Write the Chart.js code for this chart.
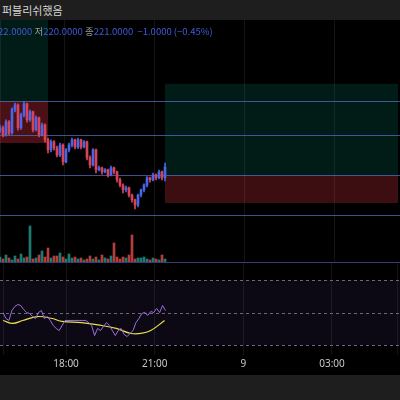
<!DOCTYPE html>
<html>
<head>
<meta charset="utf-8">
<script src="https://cdn.jsdelivr.net/npm/chart.js@4"></script>
<style>
  body { margin:0; width:400px; height:400px; background:#000; overflow:hidden; position:relative; font-family:"Noto Sans CJK KR","Noto Sans",sans-serif; }
  .bar { position:absolute; left:0; width:400px; background:#1e1e1e; }
  canvas { position:absolute; left:0; }
  #title { top:0; height:20px; color:#d6d6d6; font-size:11px; line-height:20px; padding-left:2px; box-sizing:border-box; }
  #legend { position:absolute; top:24px; left:-16px; font-size:9.5px; color:#3f5bd6; white-space:nowrap; z-index:2; }
  #legend b { font-weight:normal; color:#9a9a9a; }
</style>
</head>
<body>
<div class="bar" id="title">퍼블리쉬했음</div>
<div id="legend"><b>고</b>222.0000 <b>저</b>220.0000 <b>종</b>221.0000 &nbsp;−1.0000 (−0.45%)</div>
<canvas id="main" style="top:20px" width="400" height="205"></canvas>
<canvas id="vol" style="top:225px" width="400" height="38"></canvas>
<canvas id="rsi" style="top:263px" width="400" height="112"></canvas>
<div class="bar" style="top:375px;height:25px"></div>
<script>
// minutes from 18:00, candles every 6 minutes
const startMin = -128;
const step = 6;
const closes = [222.18,222.00,222.33,222.05,222.63,222.75,222.18,222.50,222.78,222.38,222.58,222.13,222.43,222.00,222.25,221.88,221.63,221.83,221.68,221.50,221.75,221.33,221.63,221.75,221.88,221.70,221.88,221.70,221.83,221.43,221.25,221.63,221.13,221.18,221.08,221.13,221.00,221.18,221.08,220.88,220.75,220.63,220.68,220.50,220.38,220.25,220.50,220.63,220.75,220.93,220.88,221.00,220.93,221.08,220.93,221.20];
const firstOpen = 222.10;
const highs = [222.25,222.22,222.38,222.36,222.68,222.80,222.78,222.55,222.82,222.80,222.62,222.60,222.48,222.45,222.30,222.28,221.92,221.88,221.86,221.72,221.80,221.78,221.66,221.80,221.92,221.90,221.92,221.90,221.86,221.85,221.48,221.66,221.65,221.22,221.20,221.16,221.15,221.22,221.20,221.10,220.92,220.78,220.72,220.70,220.52,220.40,220.52,220.65,220.78,220.96,220.95,221.05,221.03,221.12,221.10,221.30];
const lows = [222.05,221.95,221.97,222.00,222.02,222.58,222.12,222.14,222.45,222.32,222.34,222.08,222.10,221.95,221.98,221.82,221.55,221.58,221.62,221.45,221.46,221.25,221.30,221.58,221.70,221.65,221.66,221.65,221.68,221.38,221.18,221.22,221.05,221.10,221.02,221.05,220.95,220.98,221.03,220.82,220.70,220.55,220.58,220.45,220.32,220.15,220.20,220.45,220.58,220.70,220.82,220.85,220.88,220.90,220.88,220.85];
const volumes = [6,4,8,5,3,7,4,9,5,6,37,4,5,8,12,6,15,5,7,7,10,6,4,9,5,6,4,5,3,4,7,4,6,3,8,5,4,7,20,6,4,6,5,8,28,4,5,5,6,4,3,5,4,3,8,4];
const rsi = [50,46.3,45.1,51.2,53.7,54.9,54.3,51.8,50,49.4,47.5,46.3,50,51.2,46.3,47.5,45.1,42,40.2,38.9,42,45.1,45.1,45.1,45.1,45.1,45.1,45.1,45.1,43.8,42,35.8,40.2,38.9,41.4,43.8,42,38.9,35.8,38.9,40.2,36.5,35.2,37.1,38.9,43.8,46.3,49.4,50,48.2,50.6,50,52.5,50,54.3,51.2];
const rsiMaT = [-128,-108,-88,-58,-28,-8,32,72,102,132,152,172,200];
const rsiMa = [45.1,43.3,45.1,47.5,46.3,44.5,43.8,42,40.2,37.1,37.1,38.9,45.1];
const levels = [220, 221, 222, 222.85];
// boxes: [t1, t2, p1, p2, color]
const boxes = [
  [-140, -32, 222.85, 224.9, 'rgba(8,153,129,0.18)'],
  [-140, -32, 221.8, 222.85, 'rgba(242,54,69,0.30)'],
  [202, 668, 221.0, 223.28, 'rgba(8,153,129,0.18)'],
  [202, 668, 220.3, 221.0, 'rgba(242,54,69,0.25)']
];
const tickLabels = {0:'18:00', 180:'21:00', 360:'9', 540:'03:00'};
const xMin = -128, xMax = 672;

const times = closes.map((c, i) => startMin + i * step);
const opens = closes.map((c, i) => i === 0 ? firstOpen : closes[i - 1]);
const up = closes.map((c, i) => c >= opens[i]);
const UP = '#4a66e8', DN = '#d94457';

const xScale = (display) => ({
  type:'linear', min:xMin, max:xMax, display:true, offset:false,
  grid:{ color:'#141414', drawTicks:false, offset:false },
  border:{ display:false },
  afterFit: s => { s.height = display ? 20 : 0; },
  ticks:{ stepSize:180, display:display, color:'#c8c8c8', font:{ size:10, family:'Noto Sans' }, padding:3,
    callback: v => tickLabels[v] || '' }
});

const boxPlugin = {
  id:'boxes',
  beforeDatasetsDraw(chart) {
    const { ctx, scales:{ x, y } } = chart;
    boxes.forEach(b => {
      ctx.fillStyle = b[4];
      ctx.fillRect(x.getPixelForValue(b[0]), y.getPixelForValue(b[3]),
        x.getPixelForValue(b[1]) - x.getPixelForValue(b[0]), y.getPixelForValue(b[2]) - y.getPixelForValue(b[3]));
    });
    ctx.strokeStyle = 'rgba(80,110,190,0.75)';
    ctx.lineWidth = 1;
    levels.forEach(l => {
      const py = Math.round(y.getPixelForValue(l)) + 0.5;
      ctx.beginPath(); ctx.moveTo(0, py); ctx.lineTo(400, py); ctx.stroke();
    });
  }
};

const common = {
  responsive:false, animation:false,
  layout:{ padding:0 },
  plugins:{ legend:{ display:false }, tooltip:{ enabled:false } }
};

new Chart(document.getElementById('main'), {
  type:'bar',
  data:{ datasets:[
    { data: times.map((t, i) => ({ x:t, y:[lows[i], highs[i]] })), backgroundColor: up.map(u => u ? UP : DN), barThickness:1, grouped:false },
    { data: times.map((t, i) => ({ x:t, y:[opens[i], closes[i]] })), backgroundColor: up.map(u => u ? UP : DN), barThickness:2, grouped:false, minBarLength:1 }
  ]},
  options:{ ...common,
    scales:{ x:xScale(false), y:{ min:219.75, max:224.875, display:false } } },
  plugins:[boxPlugin]
});

new Chart(document.getElementById('vol'), {
  type:'bar',
  data:{ datasets:[
    { data: times.map((t, i) => ({ x:t, y:volumes[i] })), backgroundColor: up.map(u => u ? 'rgba(38,166,154,0.75)' : 'rgba(239,83,80,0.75)'), barThickness:2 }
  ]},
  options:{ ...common,
    scales:{ x:xScale(false), y:{ min:0, max:38, display:false } } },
  plugins:[{ id:'base', afterDraw(c) {
    const ctx = c.ctx; ctx.strokeStyle = '#3a3a78'; ctx.lineWidth = 1;
    ctx.beginPath(); ctx.moveTo(0, 37.5); ctx.lineTo(400, 37.5); ctx.stroke();
  }}]
});

const rsiPlugin = {
  id:'rsiband',
  beforeDatasetsDraw(chart) {
    const { ctx, scales:{ x, y } } = chart;
    ctx.fillStyle = 'rgba(126,87,194,0.10)';
    ctx.fillRect(0, y.getPixelForValue(70), 400, y.getPixelForValue(30) - y.getPixelForValue(70));
    ctx.strokeStyle = '#6a6a7a'; ctx.setLineDash([3, 3]); ctx.lineWidth = 1;
    [70, 50, 30].forEach(l => {
      const py = Math.round(y.getPixelForValue(l)) + 0.5;
      ctx.beginPath(); ctx.moveTo(0, py); ctx.lineTo(400, py); ctx.stroke();
    });
    ctx.setLineDash([]);
  }
};

new Chart(document.getElementById('rsi'), {
  type:'line',
  data:{ datasets:[
    { data: times.map((t, i) => ({ x:t, y:rsi[i] })), borderColor:'#9a6ee0', borderWidth:1, pointRadius:0, tension:0 },
    { data: rsiMaT.map((t, i) => ({ x:t, y:rsiMa[i] })), borderColor:'#e8e04a', borderWidth:1.2, pointRadius:0, tension:0.4 }
  ]},
  options:{ ...common,
    scales:{ x:xScale(true), y:{ min:23.85, max:80.46, display:false } } },
  plugins:[rsiPlugin]
});
</script>
</body>
</html>
